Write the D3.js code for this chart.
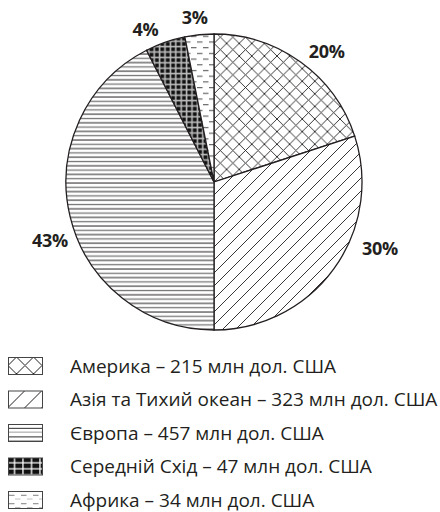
<!DOCTYPE html>
<html>
<head>
<meta charset="utf-8">
<script src="https://cdn.jsdelivr.net/npm/d3@7"></script>
<style>
  html, body { margin: 0; padding: 0; background: #fff; }
  svg text { font-family: "Open Sans", "Noto Sans", sans-serif; fill: #231f20; }
</style>
</head>
<body>
<div id="chart"></div>
<script>
// regions, values (млн дол. США) and the printed shares
var regions = ["Америка", "Азія та Тихий океан", "Європа", "Середній Схід", "Африка"];
var values = [215, 323, 457, 47, 34];
var shares = ["20%", "30%", "43%", "4%", "3%"];
var legendSpacer = ["  ", " ", " ", " ", " "];
var patterns = ["cross", "diag", "horiz", "grid", "dash"];

// share labels are not exactly on the slice middle in the original
var labelShift = [5, -14, -6, -5, -1];      // degrees from slice middle
var labelRadius = [172, 179, 174, 167, 165];

var width = 440, height = 512;
var cx = 214, cy = 182, radius = 148;
var ink = "#231f20";

var svg = d3.select("#chart").append("svg")
  .attr("width", width)
  .attr("height", height);

var defs = svg.append("defs");

function newPattern(id, w, h, bg) {
  var p = defs.append("pattern").attr("id", id)
    .attr("patternUnits", "userSpaceOnUse").attr("width", w).attr("height", h);
  p.append("rect").attr("width", w).attr("height", h).attr("fill", bg || "#fff");
  return p;
}

// --- fills used in the pie ---
newPattern("cross", 12.6, 12.6).append("path")
  .attr("d", "M0,0L12.6,12.6M12.6,0L0,12.6")
  .attr("stroke", ink).attr("stroke-width", 0.9);

newPattern("diag", 13, 13).append("path")
  .attr("d", "M-1,1L1,-1M0,13L13,0M12,14L14,12")
  .attr("stroke", ink).attr("stroke-width", 0.9);

var p = newPattern("horiz", 8, 8.6);
p.append("line").attr("x1", 0).attr("x2", 8).attr("y1", 1).attr("y2", 1)
  .attr("stroke", ink).attr("stroke-width", 1);
p.append("line").attr("x1", 0).attr("x2", 8).attr("y1", 5.3).attr("y2", 5.3)
  .attr("stroke", "#777").attr("stroke-width", 1.3);

newPattern("grid", 5.4, 5.4, "#bbb").append("rect")
  .attr("x", 0.4).attr("y", 0.4).attr("width", 3.8).attr("height", 3.8).attr("fill", "#111");

newPattern("dash", 12, 11.4).append("path")
  .attr("d", "M1,2.5H6.5M7,8.2H12.5M-5,8.2H0.5")
  .attr("stroke", "#666").attr("stroke-width", 1);

// --- coarser fills for the legend boxes ---
newPattern("cross-lg", 17, 17).attr("x", 8.5).append("path")
  .attr("d", "M0,0L17,17M17,0L0,17")
  .attr("stroke", ink).attr("stroke-width", 1);

newPattern("diag-lg", 17, 17).append("path")
  .attr("d", "M0,17L17,0M-1,1L1,-1M16,18L18,16")
  .attr("stroke", ink).attr("stroke-width", 1);

p = newPattern("horiz-lg", 34, 8.6);
p.append("line").attr("x1", 0).attr("x2", 34).attr("y1", 4.3).attr("y2", 4.3)
  .attr("stroke", ink).attr("stroke-width", 1);
p.append("line").attr("x1", 0).attr("x2", 34).attr("y1", 8.6).attr("y2", 8.6)
  .attr("stroke", "#777").attr("stroke-width", 1.4);

p = newPattern("grid-lg", 8.5, 6, "#111");
p.append("path").attr("d", "M6.5,0V6M0,5.5H8.5")
  .attr("stroke", "#fff").attr("stroke-width", 1.3);

newPattern("dash-lg", 12, 8.5).append("path")
  .attr("d", "M1,4.3H6.5M7,8.5H12.5M-5,8.5H0.5")
  .attr("stroke", "#777").attr("stroke-width", 1);

var pie = d3.pie().sort(null).value(function(d) { return d; });
var arcs = pie(values);

var arc = d3.arc().innerRadius(0).outerRadius(radius);

var g = svg.append("g").attr("transform", "translate(" + cx + "," + cy + ")");

g.selectAll("path.slice")
  .data(arcs)
  .enter()
  .append("path")
  .attr("class", "slice")
  .attr("d", arc)
  .attr("fill", function(d, i) { return "url(#" + patterns[i] + ")"; })
  .attr("stroke", ink)
  .attr("stroke-width", 1.3);

g.selectAll("text.share")
  .data(arcs)
  .enter()
  .append("text")
  .attr("class", "share")
  .attr("transform", function(d, i) {
    var a = (d.startAngle + d.endAngle) / 2 + labelShift[i] * Math.PI / 180;
    var r = labelRadius[i];
    return "translate(" + (Math.sin(a) * r) + "," + (-Math.cos(a) * r) + ")";
  })
  .attr("text-anchor", "middle")
  .attr("dy", "0.35em")
  .style("font-size", "18px")
  .style("font-weight", "bold")
  .style("letter-spacing", "-0.3px")
  .text(function(d, i) { return shares[i]; });

// legend
var legend = svg.append("g").attr("transform", "translate(8,357)");
var row = legend.selectAll("g.row")
  .data(regions)
  .enter()
  .append("g")
  .attr("class", "row")
  .attr("transform", function(d, i) { return "translate(0," + (i * 33.5) + ")"; });

row.append("rect")
  .attr("x", 0.5).attr("y", 0.5)
  .attr("width", 34).attr("height", 17)
  .attr("fill", function(d, i) { return "url(#" + patterns[i] + "-lg)"; })
  .attr("stroke", "#444")
  .attr("stroke-width", 1);

row.append("text")
  .attr("x", 62)
  .attr("y", 9)
  .attr("dy", "0.35em")
  .style("font-size", "19px")
  .text(function(d, i) { return d + " –" + legendSpacer[i] + values[i] + " млн дол. США"; });
</script>
</body>
</html>
